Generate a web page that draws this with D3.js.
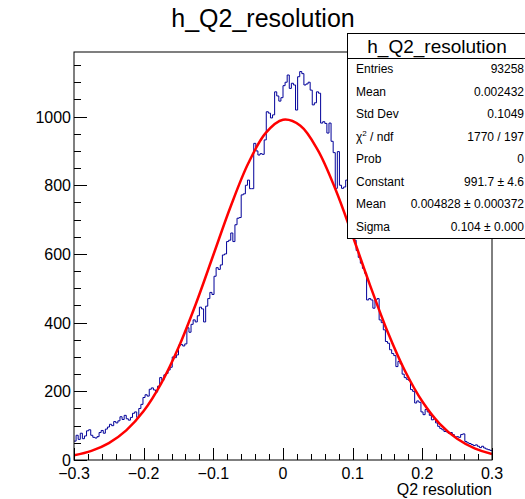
<!DOCTYPE html>
<html>
<head>
<meta charset="utf-8">
<script src="https://cdn.jsdelivr.net/npm/d3@7"></script>
<style>
  html, body { margin: 0; padding: 0; background: #fff; }
  #chart { width: 525px; height: 499px; }
  text { font-family: "Liberation Sans", Arial, Helvetica, sans-serif; fill: #000; }
</style>
</head>
<body>
<div id="chart"></div>
<script>
// histogram h_Q2_resolution, 200 bins on [-0.3, 0.3]
const histRange = [-0.3, 0.3];
const binCounts = [
  55, 72, 60, 78, 62, 70, 85, 88, 72, 66,
  64, 68, 80, 86, 78, 90, 96, 104, 100, 112,
  108, 114, 126, 118, 130, 120, 116, 124, 136, 140,
  124, 150, 162, 182, 190, 186, 206, 210, 204, 198,
  215, 240, 232, 248, 252, 262, 270, 300, 298, 306,
  334, 336, 332, 338, 385, 372, 395, 408, 402, 420,
  445, 440, 402, 448, 470, 488, 482, 535, 560, 555,
  568, 597, 600, 636, 640, 661, 636, 685, 704, 706,
  772, 775, 800, 815, 790, 790, 922, 900, 888, 892,
  890, 932, 1014, 1010, 996, 1005, 1072, 1060, 1045, 1055,
  1090, 1100, 1121, 1082, 1097, 1092, 1019, 1116, 1131, 1125,
  1092, 1095, 1100, 1077, 1034, 1040, 1072, 1068, 981, 985,
  980, 952, 981, 928, 895, 791, 898, 800, 791, 795,
  815, 760, 720, 690, 640, 610, 590, 573, 558, 544,
  466, 470, 466, 442, 466, 470, 408, 400, 379, 345,
  340, 321, 310, 304, 272, 287, 280, 250, 240, 235,
  232, 205, 200, 166, 172, 168, 140, 132, 147, 140,
  130, 117, 120, 108, 98, 92, 88, 83, 82, 78,
  80, 74, 68, 68, 66, 74, 76, 54, 50, 48,
  45, 42, 44, 40, 36, 40, 35, 32, 30, 28
];

// gaussian fit curve, sampled along x
const fitX = [-0.3, -0.275, -0.25, -0.225, -0.2, -0.175, -0.15, -0.125, -0.1, -0.075,
  -0.05, -0.025, 0, 0.025, 0.05, 0.075, 0.1, 0.125, 0.15, 0.175, 0.2, 0.225, 0.25, 0.275, 0.3];
const fitY = [13.5, 26.6, 49.3, 86.4, 142.6, 222.5, 327.6, 455.1, 596.9, 738.8,
  863.2, 951.8, 990.6, 973.2, 902.3, 789.7, 652.2, 508.5, 374.2, 259.9, 170.4, 105.4, 61.6, 33.9, 17.6];

const yMax = 1188;
const xTickLabels = ["\u22120.3", "\u22120.2", "\u22120.1", "0", "0.1", "0.2", "0.3"];
const xTickValues = [-0.3, -0.2, -0.1, 0, 0.1, 0.2, 0.3];
const yTickValues = [0, 200, 400, 600, 800, 1000];

const histTitle = "h_Q2_resolution";
const xAxisTitle = "Q2 resolution";
const statNames = ["Entries", "Mean", "Std Dev", "chi2", "Prob", "Constant", "Mean", "Sigma"];
const statValues = ["93258", "0.002432", "0.1049", "1770 / 197", "0",
  "991.7 \u00b1 4.6", "0.004828 \u00b1 0.000372", "0.104 \u00b1 0.000"];

const W = 525, H = 499;
const frame = { left: 74, right: 492, top: 52, bottom: 460 };

const svg = d3.select('#chart').append('svg')
  .attr('width', W)
  .attr('height', H)
  .attr('viewBox', `0 0 ${W} ${H}`);

const x = d3.scaleLinear().domain(histRange).range([frame.left, frame.right]);
const y = d3.scaleLinear().domain([0, yMax]).range([frame.bottom, frame.top]);

svg.append('clipPath').attr('id', 'frameClip')
  .append('rect')
  .attr('x', frame.left).attr('y', frame.top)
  .attr('width', frame.right - frame.left)
  .attr('height', frame.bottom - frame.top);

// histogram as a step line
const binWidth = (histRange[1] - histRange[0]) / binCounts.length;
const steps = [];
binCounts.forEach((c, i) => {
  const lo = histRange[0] + i * binWidth;
  steps.push([lo, c], [lo + binWidth, c]);
});

svg.append('path')
  .datum(steps)
  .attr('clip-path', 'url(#frameClip)')
  .attr('fill', 'none')
  .attr('stroke', '#000099')
  .attr('stroke-width', 1)
  .attr('d', d3.line().x(d => x(d[0])).y(d => y(d[1])));

// fit
svg.append('path')
  .datum(fitX.map((v, i) => [v, fitY[i]]))
  .attr('clip-path', 'url(#frameClip)')
  .attr('fill', 'none')
  .attr('stroke', '#ff0000')
  .attr('stroke-width', 2.5)
  .attr('d', d3.line().curve(d3.curveCatmullRom).x(d => x(d[0])).y(d => y(d[1])));

// frame
svg.append('rect')
  .attr('x', frame.left).attr('y', frame.top)
  .attr('width', frame.right - frame.left)
  .attr('height', frame.bottom - frame.top)
  .attr('fill', 'none')
  .attr('stroke', '#000')
  .attr('stroke-width', 1);

// x axis ticks (inside, pointing up)
const xMinor = d3.range(-0.3, 0.3001, 0.02);
svg.append('g').selectAll('line')
  .data(xMinor)
  .join('line')
  .attr('x1', d => Math.round(x(d)) + 0.5).attr('x2', d => Math.round(x(d)) + 0.5)
  .attr('y1', frame.bottom)
  .attr('y2', (d, i) => frame.bottom - (i % 5 === 0 ? 12 : 6))
  .attr('stroke', '#000');

svg.append('g').selectAll('text')
  .data(xTickValues)
  .join('text')
  .attr('x', d => x(d))
  .attr('y', 479)
  .attr('text-anchor', 'middle')
  .style('font-size', '16px')
  .text((d, i) => xTickLabels[i]);

svg.append('text')
  .attr('x', frame.right)
  .attr('y', 495)
  .attr('text-anchor', 'end')
  .style('font-size', '16px')
  .text(xAxisTitle);

// y axis ticks (inside, pointing right)
const yMinor = d3.range(0, yMax, 50);
svg.append('g').selectAll('line')
  .data(yMinor)
  .join('line')
  .attr('x1', frame.left)
  .attr('x2', d => frame.left + (d % 200 === 0 ? 13 : 7))
  .attr('y1', d => Math.round(y(d)) + 0.5).attr('y2', d => Math.round(y(d)) + 0.5)
  .attr('stroke', '#000');

svg.append('g').selectAll('text')
  .data(yTickValues)
  .join('text')
  .attr('x', frame.left - 3)
  .attr('y', d => y(d) + 6)
  .attr('text-anchor', 'end')
  .style('font-size', '16px')
  .text(d => d);

// title
svg.append('text')
  .attr('x', 263)
  .attr('y', 27)
  .attr('text-anchor', 'middle')
  .style('font-size', '25px')
  .text(histTitle);

// stats box
const box = { left: 347, top: 33, right: 527, bottom: 238, head: 58 };
const stats = svg.append('g');
stats.append('rect')
  .attr('x', box.left + 0.5).attr('y', box.top + 0.5)
  .attr('width', box.right - box.left)
  .attr('height', box.bottom - box.top)
  .attr('fill', '#fff')
  .attr('stroke', '#000');
stats.append('line')
  .attr('x1', box.left).attr('x2', box.right)
  .attr('y1', box.head + 0.5).attr('y2', box.head + 0.5)
  .attr('stroke', '#000');
stats.append('text')
  .attr('x', (box.left + box.right) / 2)
  .attr('y', box.head - 5)
  .attr('text-anchor', 'middle')
  .style('font-size', '19px')
  .text(histTitle);

const rowY = d3.scaleLinear().domain([0, statNames.length - 1]).range([69, 227]);
statNames.forEach((name, i) => {
  const t = stats.append('text')
    .attr('x', 356)
    .attr('y', rowY(i) + 4)
    .style('font-size', '12px');
  if (name === 'chi2') {
    t.append('tspan').text('\u03c7');
    t.append('tspan').attr('dy', -5).style('font-size', '8px').text('2');
    t.append('tspan').attr('dy', 5).text(' / ndf');
  } else {
    t.text(name);
  }
  stats.append('text')
    .attr('x', 524)
    .attr('y', rowY(i) + 4)
    .attr('text-anchor', 'end')
    .style('font-size', '12px')
    .text(statValues[i]);
});
</script>
</body>
</html>
